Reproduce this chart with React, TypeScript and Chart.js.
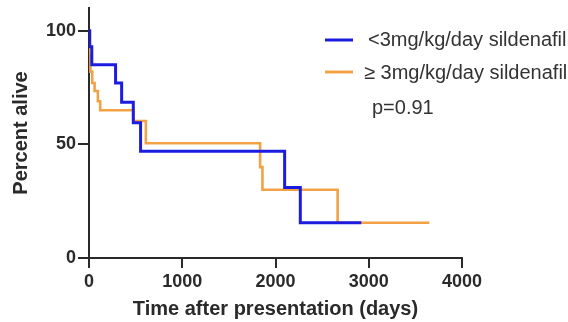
import React, { useEffect, useRef } from "react";
import { Chart, registerables } from "chart.js";

Chart.register(...registerables);

// Kaplan-Meier data (days after presentation, percent alive)
const lowDoseDays = [0, 8, 30, 285, 350, 475, 553, 2098, 2266, 2920];
const lowDoseSurvival = [100, 93, 85, 77, 68.5, 59.5, 47, 31, 15.5, 15.5];
const highDoseDays = [0, 2, 15, 35, 60, 95, 120, 475, 610, 1835, 1860, 2666, 3650];
const highDoseSurvival = [100, 90, 82, 77, 73.5, 69, 65, 60.3, 50.5, 40, 30, 15.5, 15.5];
const seriesLabels = ["<3mg/kg/day sildenafil", "\u2265 3mg/kg/day sildenafil"];
const xTicks = [0, 1000, 2000, 3000, 4000];
const yTicks = [0, 50, 100];
const pValueText = "p=0.91";
const xTitle = "Time after presentation (days)";
const yTitle = "Percent alive";

const BLUE = "#1c1ce0";
const ORANGE = "#f2a245";
const AXIS = "#2a2a2a";
const FONT = "'Liberation Sans', Arial, Helvetica, sans-serif";

const legendPlugin = {
  id: "kmLegend",
  afterDraw(chart: any) {
    const ctx = chart.ctx;
    const items = [
      { color: BLUE, width: 3, text: seriesLabels[0], lineY: 40, textX: 368, textY: 40 },
      { color: ORANGE, width: 3, text: seriesLabels[1], lineY: 72, textX: 364, textY: 73 },
    ];
    ctx.save();
    ctx.font = `20px ${FONT}`;
    ctx.textBaseline = "middle";
    ctx.textAlign = "left";
    for (const it of items) {
      ctx.strokeStyle = it.color;
      ctx.lineWidth = it.width;
      ctx.beginPath();
      ctx.moveTo(325, it.lineY);
      ctx.lineTo(353, it.lineY);
      ctx.stroke();
      ctx.fillStyle = "#333333";
      ctx.fillText(it.text, it.textX, it.textY);
    }
    ctx.fillText(pValueText, 372, 108);
    ctx.restore();
  },
};

export default function App() {
  const ref = useRef<HTMLCanvasElement | null>(null);

  useEffect(() => {
    document.body.style.margin = "0";
    const canvas = ref.current;
    if (!canvas) return;
    const chart = new Chart(canvas, {
      type: "line",
      data: {
        datasets: [
          {
            label: seriesLabels[0],
            data: lowDoseDays.map((d, i) => ({ x: d, y: lowDoseSurvival[i] })),
            borderColor: BLUE,
            borderWidth: 3,
            stepped: "before",
            pointRadius: 0,
            fill: false,
          },
          {
            label: seriesLabels[1],
            data: highDoseDays.map((d, i) => ({ x: d, y: highDoseSurvival[i] })),
            borderColor: ORANGE,
            borderWidth: 2.6,
            stepped: "before",
            pointRadius: 0,
            fill: false,
          },
        ],
      },
      options: {
        animation: false,
        responsive: false,
        devicePixelRatio: 1,
        layout: { padding: { top: 8, right: 106, left: 0, bottom: 0 } },
        plugins: { legend: { display: false }, tooltip: { enabled: false } },
        scales: {
          x: {
            type: "linear",
            min: 0,
            max: 4000,
            afterBuildTicks: (scale: any) => {
              scale.ticks = xTicks.map((v) => ({ value: v }));
            },
            afterFit: (scale: any) => {
              scale.height = 64;
            },
            ticks: {
              color: AXIS,
              font: { family: FONT, size: 18, weight: "bold" },
              padding: 3,
              maxRotation: 0,
              autoSkip: false,
              callback: (v: any) => String(v),
            },
            grid: {
              drawOnChartArea: false,
              drawTicks: true,
              tickLength: 10,
              color: AXIS,
              lineWidth: 2,
            },
            border: { display: true, color: AXIS, width: 2 },
            title: {
              display: true,
              text: xTitle,
              color: AXIS,
              font: { family: FONT, size: 20, weight: "bold" },
              padding: { top: 0, bottom: 1 },
            },
          },
          y: {
            type: "linear",
            min: 0,
            max: 110,
            afterBuildTicks: (scale: any) => {
              scale.ticks = yTicks.map((v) => ({ value: v }));
            },
            afterFit: (scale: any) => {
              scale.width = 89;
              scale.paddingTop = 0;
              scale.paddingBottom = 0;
            },
            ticks: {
              color: AXIS,
              font: { family: FONT, size: 18, weight: "bold" },
              padding: 2,
              autoSkip: false,
              callback: (v: any) => String(v),
            },
            grid: {
              drawOnChartArea: false,
              drawTicks: true,
              tickLength: 11,
              color: AXIS,
              lineWidth: 2,
            },
            border: { display: true, color: AXIS, width: 2 },
            title: {
              display: true,
              text: yTitle,
              color: AXIS,
              font: { family: FONT, size: 20, weight: "bold" },
              padding: { top: 9, bottom: 0 },
            },
          },
        },
      },
      plugins: [legendPlugin],
    } as any);
    return () => chart.destroy();
  }, []);

  return (
    <div style={{ position: "absolute", left: 0, top: 0, width: 568, height: 322, background: "#fff" }}>
      <canvas ref={ref} width={568} height={322} style={{ width: 568, height: 322, display: "block" }} />
    </div>
  );
}
